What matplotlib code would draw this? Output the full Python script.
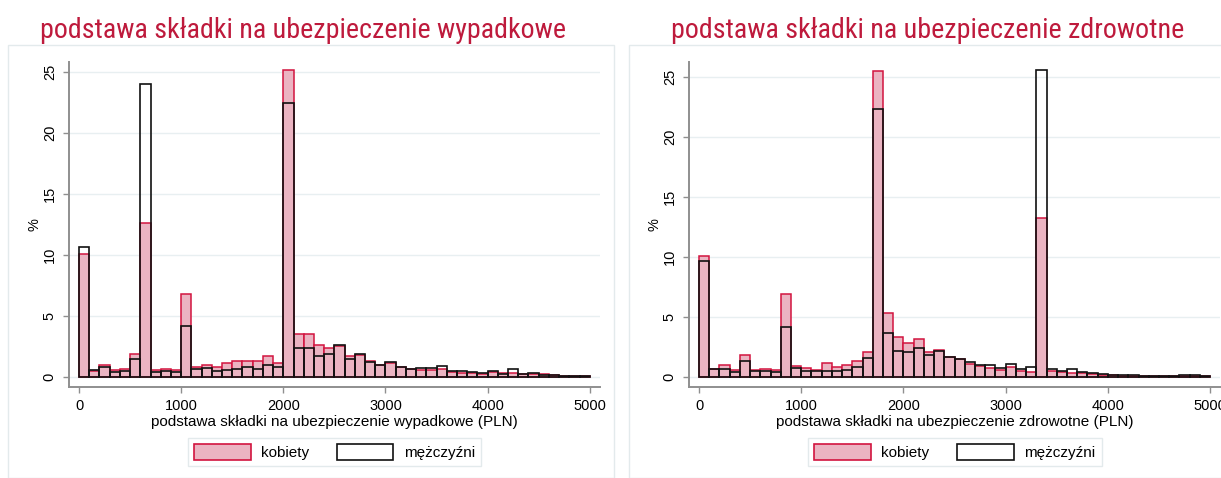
import numpy as np
import matplotlib
matplotlib.use("Agg")
import matplotlib.pyplot as plt
from matplotlib.patches import Patch, Rectangle

# Histogram bins: 100 PLN wide, 0..5000
BIN_WIDTH = 100
bin_left = np.arange(0, 5000, BIN_WIDTH)

# Accident insurance base, share of people (%) per bin
wyp_kobiety = [10.1, 0.55, 1.04, 0.6, 0.68, 1.89, 12.62, 0.6, 0.68, 0.6,
               6.8, 0.87, 1.04, 0.82, 1.17, 1.34, 1.34, 1.34, 1.78, 1.2,
               25.16, 3.58, 3.52, 2.65, 2.38, 2.55, 1.72, 1.85, 1.37, 1.04,
               1.2, 0.82, 0.68, 0.6, 0.57, 0.66, 0.41, 0.38, 0.36, 0.27,
               0.41, 0.33, 0.38, 0.27, 0.3, 0.25, 0.16, 0.13, 0.12, 0.1]
wyp_mezczyzni = [10.7, 0.63, 0.82, 0.46, 0.55, 1.48, 24.07, 0.46, 0.52, 0.46,
                 4.18, 0.68, 0.77, 0.52, 0.6, 0.71, 0.82, 0.66, 1.01, 0.85,
                 22.5, 2.43, 2.43, 1.78, 1.91, 2.62, 1.48, 1.94, 1.28, 0.98,
                 1.28, 0.87, 0.68, 0.79, 0.79, 0.9, 0.52, 0.55, 0.44, 0.38,
                 0.55, 0.27, 0.66, 0.25, 0.33, 0.22, 0.16, 0.14, 0.12, 0.1]

# Health insurance base, share of people (%) per bin
zdr_kobiety = [10.06, 0.7, 1.05, 0.61, 1.88, 0.61, 0.69, 0.61, 6.9, 0.91,
               0.75, 0.58, 1.22, 0.86, 1.05, 1.33, 2.13, 25.44, 5.32, 3.33,
               2.88, 3.19, 2.13, 2.24, 1.66, 1.5, 1.1, 0.94, 0.8, 0.61,
               0.89, 0.55, 0.44, 13.28, 0.5, 0.42, 0.33, 0.33, 0.3, 0.22,
               0.16, 0.15, 0.15, 0.12, 0.12, 0.1, 0.1, 0.14, 0.14, 0.1]
zdr_mezczyzni = [9.7, 0.69, 0.72, 0.42, 1.36, 0.5, 0.5, 0.44, 4.16, 0.75,
                 0.5, 0.5, 0.55, 0.55, 0.61, 0.86, 1.64, 22.28, 3.69, 2.19,
                 2.11, 2.41, 1.88, 2.19, 1.66, 1.55, 1.3, 1.03, 1.03, 0.75,
                 1.14, 0.72, 0.86, 25.55, 0.67, 0.5, 0.69, 0.42, 0.36, 0.25,
                 0.19, 0.17, 0.17, 0.14, 0.14, 0.11, 0.11, 0.17, 0.17, 0.11]

titles = ["podstawa składki na ubezpieczenie wypadkowe",
          "podstawa składki na ubezpieczenie zdrowotne"]
xlabels = ["podstawa składki na ubezpieczenie wypadkowe (PLN)",
           "podstawa składki na ubezpieczenie zdrowotne (PLN)"]
x_ticks = [0, 1000, 2000, 3000, 4000, 5000]
y_ticks = [0, 5, 10, 15, 20, 25]
legend_labels = ["kobiety", "mężczyźni"]

TITLE_RED = "#BE1A3C"
PINK = "#EBB4C2"
PINK_EDGE = "#D2143F"
SPINE = "#8F8F8F"
GRID = "#E8EFF1"
BOX = "#E3EAEC"

plt.rcParams["font.family"] = ["Liberation Sans", "DejaVu Sans"]

W, H = 1221, 478
fig = plt.figure(figsize=(W / 100, H / 100), dpi=100)


def fx(px):
    return px / W


def fy(py):
    return 1 - py / H


# panel frames (pixel layout)
panels = [
    dict(box=(8, 614), axes=(69.3, 600.0), ylim=(-0.77, 25.87), title_x=40,
         kob=wyp_kobiety, mez=wyp_mezczyzni),
    dict(box=(629, 1240), axes=(689.3, 1220.3), ylim=(-0.78, 26.23), title_x=670.7,
         kob=zdr_kobiety, mez=zdr_mezczyzni),
]

for i, p in enumerate(panels):
    bx0, bx1 = p["box"]
    fig.patches.append(Rectangle((fx(bx0), 0), fx(bx1 - bx0), fy(45),
                                 transform=fig.transFigure, facecolor="white",
                                 edgecolor=BOX, lw=1.0, zorder=-5))
    fig.text(fx(p["title_x"]), fy(37.7), titles[i], color=TITLE_RED,
             fontsize=20.2, family=["Roboto Condensed", "Roboto"],
             ha="left", va="baseline")

    ax0, ax1 = p["axes"]
    ax = fig.add_axes([fx(ax0), fy(386.7), fx(ax1 - ax0), fy(61.7) - fy(386.7)])
    ax.set_zorder(2)
    ax.set_facecolor("none")
    ax.bar(bin_left, p["kob"], width=BIN_WIDTH, align="edge", color=PINK,
           edgecolor=PINK_EDGE, linewidth=1.1, zorder=2)
    ax.bar(bin_left, p["mez"], width=BIN_WIDTH, align="edge", facecolor="none",
           edgecolor="#111111", linewidth=1.2, zorder=3)

    ax.set_xlim(-95, 5100)
    ax.set_ylim(*p["ylim"])
    ax.set_xticks(x_ticks)
    ax.set_yticks(y_ticks)
    ax.set_yticklabels([str(t) for t in y_ticks], rotation=90, va="center")
    ax.tick_params(axis="both", length=4, width=1, color=SPINE, labelsize=10.5,
                   pad=5)
    ax.grid(axis="y", color=GRID, lw=1.0, zorder=0)
    ax.set_axisbelow(True)
    for s in ["top", "right"]:
        ax.spines[s].set_visible(False)
    for s in ["left", "bottom"]:
        ax.spines[s].set_color(SPINE)
        ax.spines[s].set_linewidth(1.4)
    ax.set_ylabel("%", fontsize=10.5, labelpad=1)

    center = fx((ax0 + ax1) / 2)
    fig.text(center, fy(421.7), xlabels[i], fontsize=11,
             ha="center", va="center")

    handles = [Patch(facecolor=PINK, edgecolor=PINK_EDGE, lw=1.2),
               Patch(facecolor="white", edgecolor="#111111", lw=1.2)]
    fig.legend(handles, legend_labels, ncol=2, loc="center",
               bbox_to_anchor=(center, fy(452)), fontsize=11,
               frameon=True, fancybox=False, edgecolor=BOX, framealpha=1,
               handlelength=3.7, handleheight=1.2, columnspacing=1.8,
               handletextpad=0.7, borderpad=0.4)

fig.savefig("out.png", dpi=100)
